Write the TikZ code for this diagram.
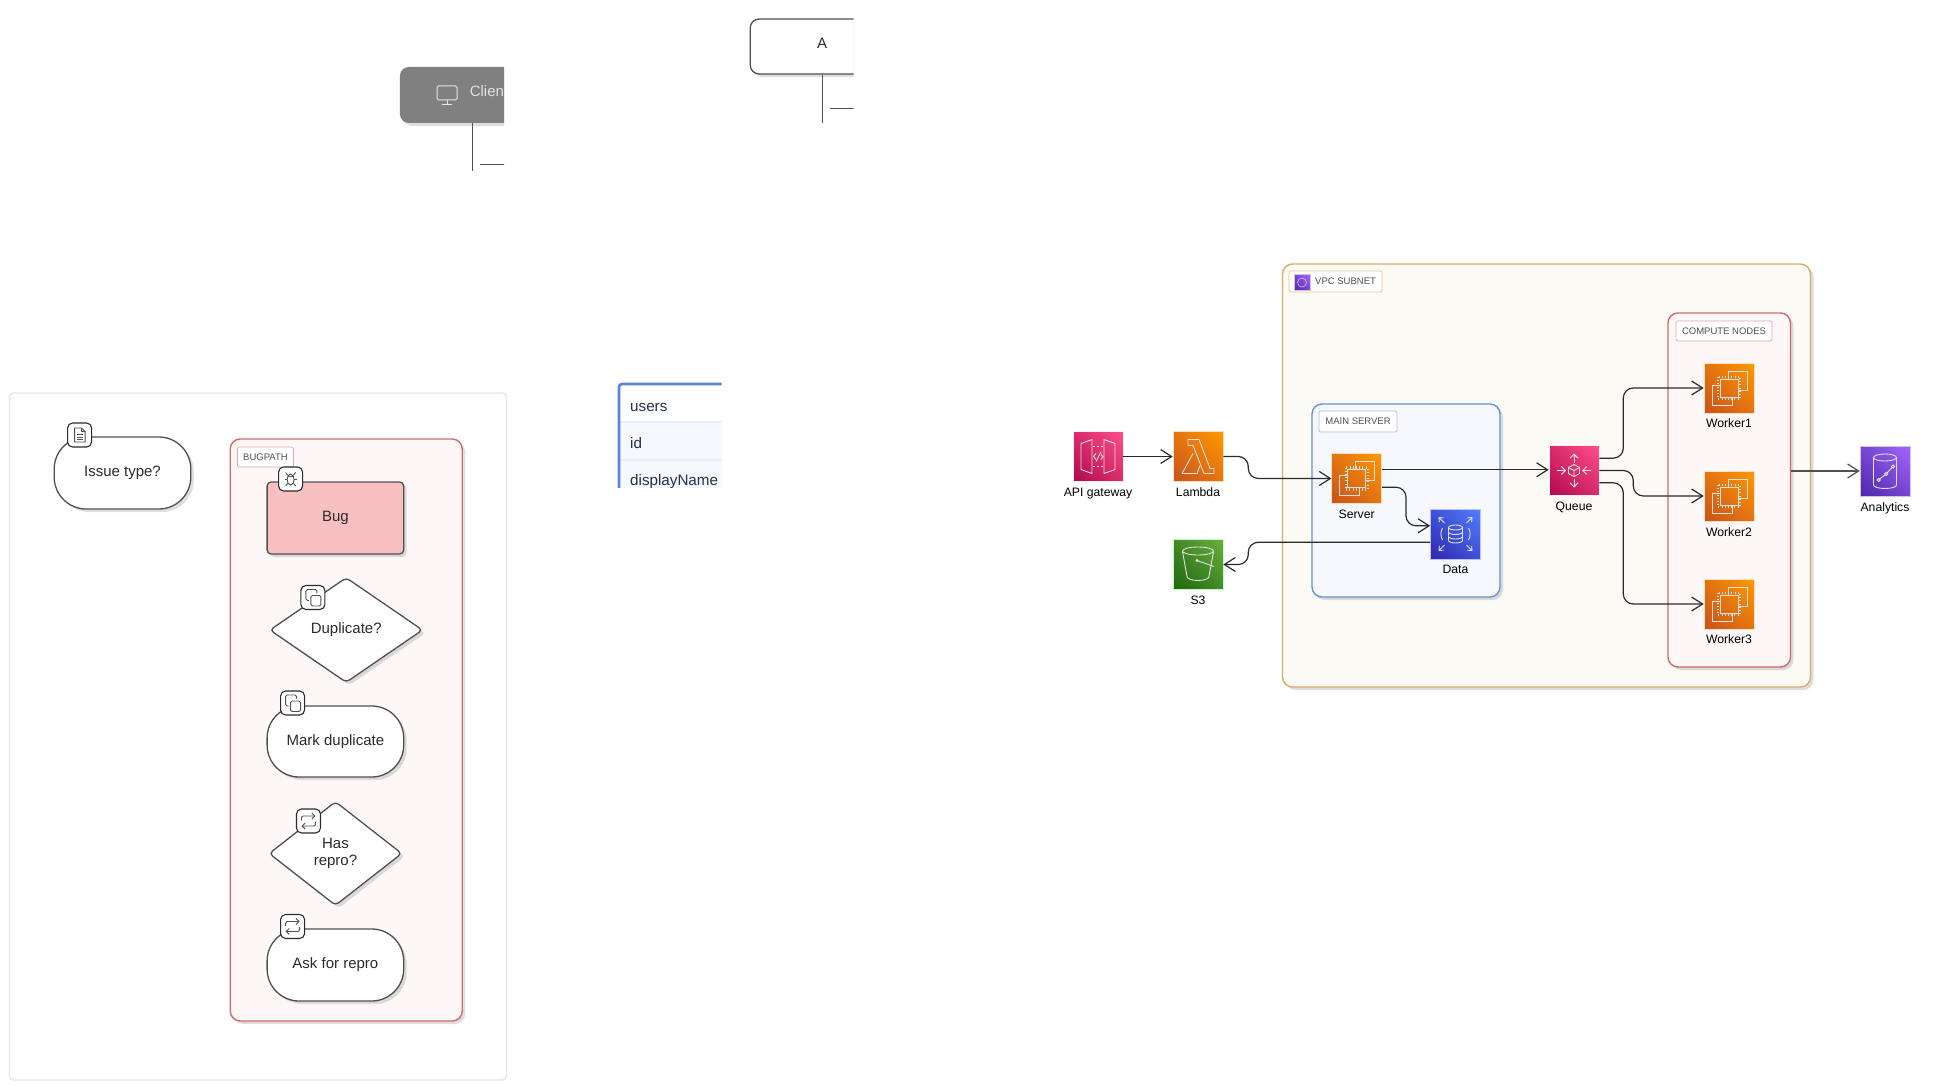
\documentclass[tikz,border=0pt]{standalone}
\usepackage{fontspec}
\setmainfont{Liberation Sans}
\usetikzlibrary{arrows.meta,shadows,shadings,shapes.geometric,calc}

\definecolor{inkdark}{HTML}{2B2B2B}
\definecolor{inkgrey}{HTML}{505050}
\definecolor{redline}{HTML}{D36A6A}
\definecolor{redfill}{HTML}{FDF7F7}
\definecolor{bugfill}{HTML}{F8BFC0}
\definecolor{blueline}{HTML}{6492D8}
\definecolor{bluefill}{HTML}{F6F8FD}
\definecolor{sandline}{HTML}{DCAA66}
\definecolor{sandfill}{HTML}{FBFAF5}
\definecolor{tabletext}{HTML}{24304F}

\tikzset{
	softshadow/.style={drop shadow={shadow xshift=3pt, shadow yshift=-3pt, fill=black, opacity=0.13}},
	flowshape/.style={draw=inkgrey, line width=1.3pt, fill=white, text=inkdark, inner sep=0pt, softshadow, font=\fontsize{15}{17}\selectfont},
	terminal/.style={flowshape, rounded corners=32pt, minimum width=136.6pt, minimum height=72pt},
	question/.style={flowshape, diamond, aspect=1.45, rounded corners=4pt, align=center},
	badge/.style={draw=inkdark, line width=1.1pt, fill=white, rounded corners=5pt, minimum size=24pt, inner sep=0pt},
	glyph/.style={draw=inkgrey, line width=0.9pt},
	group/.style={line width=1.4pt, rounded corners=10pt, inner sep=0pt, softshadow},
	tag/.style={fill=white, line width=0.7pt, rounded corners=2pt, inner sep=0pt, text=inkgrey, font=\fontsize{9.5}{11}\selectfont},
	service/.style={minimum size=50pt, inner sep=0pt, draw=white!75!#1, line width=0.6pt, shading=bilinear interpolation},
	pinkicon/.style={service=pink, lower left=pinkA, upper right=pinkB, upper left=pinkC, lower right=pinkC},
	orangeicon/.style={service=orange, lower left=orangeA, upper right=orangeB, upper left=orangeC, lower right=orangeC},
	blueicon/.style={service=blue, lower left=indigoA, upper right=indigoB, upper left=indigoC, lower right=indigoC},
	greenicon/.style={service=green, lower left=greenA, upper right=greenB, upper left=greenC, lower right=greenC},
	purpleicon/.style={service=violet, lower left=violetA, upper right=violetB, upper left=violetC, lower right=violetC},
	iconline/.style={draw=white!88!black, line width=0.9pt},
	icontext/.style={text=black, inner sep=0pt, text height=9pt, text depth=0.5pt, font=\fontsize{12.2}{14}\selectfont},
	link/.style={draw=inkdark, line width=1.2pt, rounded corners=10pt, -{Straight Barb[length=11pt,width=14pt]}},
	lifeline/.style={draw=inkgrey, line width=1pt},
	tablerow/.style={minimum width=130pt, minimum height=37pt, inner sep=0pt},
	tabletxt/.style={text=tabletext, inner sep=0pt, anchor=west, text height=11pt, text depth=0.5pt, font=\fontsize{15.2}{18}\selectfont}
}

\definecolor{pinkA}{HTML}{B0084D}\definecolor{pinkB}{HTML}{FF4F8B}\definecolor{pinkC}{HTML}{D82C6C}
\definecolor{orangeA}{HTML}{C8511B}\definecolor{orangeB}{HTML}{FF9900}\definecolor{orangeC}{HTML}{E47510}
\definecolor{indigoA}{HTML}{2E27AD}\definecolor{indigoB}{HTML}{527FFF}\definecolor{indigoC}{HTML}{3F52D6}
\definecolor{greenA}{HTML}{1B660F}\definecolor{greenB}{HTML}{6CAE3E}\definecolor{greenC}{HTML}{438A26}
\definecolor{violetA}{HTML}{4D27AA}\definecolor{violetB}{HTML}{A166FF}\definecolor{violetC}{HTML}{7746D4}

% glyphs, drawn round the centre of a named node
\def\chipglyph(#1){\begin{scope}[shift={(#1)}]
	\draw[iconline] (-1, -9) -- (-1, -17) -- (18, -17) -- (18, 2) -- (9, 2);
	\draw[iconline] (-9, -3) -- (-17, -3) -- (-17, 17) -- (3, 17) -- (3, 9);
	\draw[iconline] (-9, -9) rectangle (9, 9);
	\draw[iconline, line width=2.4pt, dash pattern=on 1pt off 2.2pt] (-11, -11) rectangle (11, 11);
\end{scope}}
\def\gateglyph(#1){\begin{scope}[shift={(#1)}]
	\draw[iconline] (-17, -13) -- (-6, -17) -- (-6, 17) -- (-17, 13) -- cycle;
	\draw[iconline] (6, -17) -- (17, -13) -- (17, 13) -- (6, 17) -- cycle;
	\draw[iconline, dash pattern=on 2pt off 2pt] (-5, -10) -- (5, -10);
	\draw[iconline, dash pattern=on 2pt off 2pt] (-5, 10) -- (5, 10);
	\draw[iconline] (3, -5) -- (-2, 5);
	\draw[iconline] (-2, -3) -- (-4.5, 0) -- (-2, 3);
	\draw[iconline] (3, -2) -- (5, 0) -- (3, 3);
\end{scope}}
\def\lambdaglyph(#1){\begin{scope}[shift={(#1)}]
	\draw[iconline] (-10, -17) -- (1, -17) -- (12, 12) -- (16, 12) -- (16, 17) -- (6, 17) -- (-5, -11) -- (-10, -11) -- cycle;
	\draw[iconline] (-5, -3) -- (-16, 17) -- (-1, 17) -- (2, 9);
\end{scope}}
\def\bucketglyph(#1){\begin{scope}[shift={(#1)}]
	\draw[iconline] (0, -13.5) ellipse (15.5 and 4);
	\draw[iconline] (-15.5, -13) -- (-11, 12) arc (180:0:11 and 4) -- (15.5, -13);
	\draw[iconline] (-1, -4) -- (16, 2);
	\draw[iconline] (-1, -4) circle (1);
\end{scope}}
\def\dataglyph(#1){\begin{scope}[shift={(#1)}]
	\draw[iconline] (0, -6.5) ellipse (7 and 2.5);
	\draw[iconline] (-7, -6.5) -- (-7, 6.5) arc (180:0:7 and 2.5) -- (7, -6.5);
	\draw[iconline] (-7, -2) arc (180:0:7 and 2.5);
	\draw[iconline] (-7, 2.5) arc (180:0:7 and 2.5);
	\draw[iconline] (-13, -6) arc (210:150:12);
	\draw[iconline] (13, -6) arc (-30:30:12);
	\draw[iconline, -{Straight Barb[length=3.5pt,width=6pt]}] (-11, -11) -- (-17, -17);
	\draw[iconline, -{Straight Barb[length=3.5pt,width=6pt]}] (11, -11) -- (17, -17);
	\draw[iconline, -{Straight Barb[length=3.5pt,width=6pt]}] (-11, 11) -- (-17, 17);
	\draw[iconline, -{Straight Barb[length=3.5pt,width=6pt]}] (11, 11) -- (17, 17);
\end{scope}}
\def\queueglyph(#1){\begin{scope}[shift={(#1)}]
	\draw[iconline] (0, -6) -- (5.5, -3) -- (5.5, 3) -- (0, 6) -- (-5.5, 3) -- (-5.5, -3) -- cycle;
	\draw[iconline] (-5.5, -3) -- (0, 0) -- (5.5, -3) (0, 0) -- (0, 6);
	\draw[iconline, -{Straight Barb[length=4pt,width=8pt]}] (0, -8) -- (0, -17);
	\draw[iconline, -{Straight Barb[length=4pt,width=8pt]}] (0, 8) -- (0, 17);
	\draw[iconline, -{Straight Barb[length=4pt,width=8pt]}] (-17, 0) -- (-8, 0);
	\draw[iconline, -{Straight Barb[length=4pt,width=8pt]}] (17, 0) -- (8, 0);
\end{scope}}
\def\chartglyph(#1){\begin{scope}[shift={(#1)}]
	\draw[iconline] (0, -13.5) ellipse (11.5 and 3.5);
	\draw[iconline] (-11.5, -13.5) -- (-11.5, 14) arc (180:0:11.5 and 3.5) -- (11.5, -13.5);
	\draw[iconline] (-6.5, 9) -- (1, 3) -- (8, -4.5);
	\draw[iconline, fill=violetC] (-6.5, 9) circle (1.6);
	\draw[iconline, fill=violetC] (1, 3) circle (1.6);
	\draw[iconline, fill=violetC] (8, -4.5) circle (1.6);
\end{scope}}
\def\fileglyph(#1){\begin{scope}[shift={(#1)}]
	\draw[glyph] (-5, -7) -- (2, -7) -- (5.5, -3.5) -- (5.5, 7) -- (-5, 7) -- cycle;
	\draw[glyph] (2, -7) -- (2, -3.5) -- (5.5, -3.5);
	\draw[glyph] (-2.5, -0.5) -- (3, -0.5) (-2.5, 2) -- (3, 2) (-2.5, 4.5) -- (3, 4.5);
\end{scope}}
\def\bugglyph(#1){\begin{scope}[shift={(#1)}]
	\draw[glyph] (0, 0.5) ellipse (3.5 and 5.5);
	\draw[glyph] (-3, -4) -- (-5, -6.5) (3, -4) -- (5, -6.5);
	\draw[glyph] (-6, 0.5) -- (-3.5, 0.5) (3.5, 0.5) -- (6, 0.5);
	\draw[glyph] (-3, 4.5) -- (-5, 7) (3, 4.5) -- (5, 7);
	\draw[glyph] (-3, -3) -- (3, -3);
\end{scope}}
\def\copyglyph(#1){\begin{scope}[shift={(#1)}]
	\draw[glyph, rounded corners=1.5pt] (-2, 8.5) rectangle (8, -2);
	\draw[glyph, rounded corners=1.5pt] (-4, 3) -- (-7, 3) -- (-7, -8) -- (4, -8) -- (4, -4.5);
\end{scope}}
\def\loopglyph(#1){\begin{scope}[shift={(#1)}]
	\draw[glyph, rounded corners=2pt, -{Straight Barb[length=3pt,width=6pt]}] (-7, -0.5) -- (-7, -5) -- (7, -5);
	\draw[glyph, rounded corners=2pt, -{Straight Barb[length=3pt,width=6pt]}] (7, 0.5) -- (7, 5) -- (-7, 5);
\end{scope}}

\begin{document}
\begin{tikzpicture}[x=1pt, y=-1pt]
	\useasboundingbox (0, 0) rectangle (1944, 1086);

	%%%%% top boxes, cut off by their frames %%%%%
	\begin{scope}
		\clip (394, 60) rectangle (504, 180);
		\node[draw=none, fill=black!50, rounded corners=9pt, minimum width=145pt, minimum height=56pt, inner sep=0pt, softshadow] (client) at (472.4, 95) {};
		\node[inner sep=0pt, anchor=west, text=white!88!black, font=\fontsize{15}{17}\selectfont] (clienttxt) at (469.6, 91) {Client};
		\draw[white!90!black, line width=1pt, rounded corners=1.5pt] (437, 86) rectangle (457, 100);
		\draw[white!90!black, line width=1pt] (447, 100) -- (447, 105) (442, 105) -- (452, 105);
		\coordinate (clientend) at (472.4, 171);
		\coordinate (clientmark) at (480, 165);
		\coordinate (clientmarkend) at (530, 165);
		\draw[lifeline, line width=0.7pt] (client.south) -- (clientend);
		\draw[lifeline] (clientmark) -- (clientmarkend);
	\end{scope}
	\begin{scope}
		\clip (745, 12) rectangle (853.5, 130);
		\node[flowshape, rounded corners=9pt, minimum width=144pt, minimum height=55pt] (nodeA) at (822.2, 46.5) {};
		\node[inner sep=0pt, text=inkdark, font=\fontsize{15}{17}\selectfont] (nodeAtxt) at (822.2, 43) {A};
		\coordinate (nodeAend) at (822.2, 123);
		\coordinate (nodeAmark) at (829.5, 108.5);
		\coordinate (nodeAmarkend) at (880, 108.5);
		\draw[lifeline] (nodeA.south) -- (nodeAend);
		\draw[lifeline] (nodeAmark) -- (nodeAmarkend);
	\end{scope}

	%%%%% flow panel %%%%%
	\node[draw=black!10, line width=1.4pt, fill=white, rounded corners=4pt, minimum width=497pt, minimum height=687pt, inner sep=0pt] (panel) at (258, 736.5) {};
	\node[group, draw=redline, fill=redfill, minimum width=232pt, minimum height=582pt] (bugpath) at (346.2, 730) {};
	\node[tag, draw=redline!60, minimum width=56pt, minimum height=20pt] (bugpathtag) at (265.5, 457) {BUGPATH};

	\node[terminal] (issue) at (122.5, 473) {Issue type?};
	\node[badge] (issuebadge) at (79.6, 435) {};
	\fileglyph(issuebadge)

	\node[flowshape, fill=bugfill, rounded corners=4pt, minimum width=136.6pt, minimum height=72pt] (bug) at (335.4, 518) {Bug};
	\node[badge] (bugbadge) at (290.6, 479) {};
	\bugglyph(bugbadge)

	\node[question, minimum width=153pt, minimum height=105pt] (duplicate) at (346.2, 630) {Duplicate?};
	\node[badge] (duplicatebadge) at (312.9, 597.5) {};
	\copyglyph(duplicatebadge)

	\node[terminal, minimum height=71pt] (markdup) at (335.4, 741.5) {Mark duplicate};
	\node[badge] (markdupbadge) at (292.6, 703) {};
	\copyglyph(markdupbadge)

	\node[question, minimum width=133pt, minimum height=104pt] (repro) at (335.5, 853.5) {Has\\repro?};
	\node[badge] (reprobadge) at (308.5, 821) {};
	\loopglyph(reprobadge)

	\node[terminal] (askrepro) at (335.4, 965) {Ask for repro};
	\node[badge] (askreprobadge) at (292.6, 926.5) {};
	\loopglyph(askreprobadge)

	%%%%% table %%%%%
	\begin{scope}
		\clip (616, 381) rectangle (721.6, 487);
		\node[tablerow, fill=white, anchor=north west] (usersrow) at (618, 384) {};
		\node[tablerow, fill=bluefill, anchor=north west] (idrow) at (618, 422) {};
		\node[tablerow, fill=bluefill, anchor=north west] (namerow) at (618, 460) {};
		\draw[blue!8, line width=1.2pt] (idrow.north west) -- (idrow.north east);
		\draw[blue!8, line width=1.2pt] (namerow.north west) -- (namerow.north east);
		\node[tabletxt] (userstxt) at (630, 406) {users};
		\node[tabletxt] (idtxt) at (630, 443) {id};
		\node[tabletxt] (nametxt) at (630, 480) {displayName};
		\draw[draw=blueline!90!blue, line width=2.6pt, rounded corners=3pt] (619, 500) -- (619, 384) -- (740, 384);
	\end{scope}

	%%%%% groups %%%%%
	\node[group, draw=sandline, fill=sandfill, minimum width=528pt, minimum height=423pt] (vpc) at (1546.5, 475.5) {};
	\node[tag, draw=sandline!70, minimum width=93pt, minimum height=21pt] (vpctag) at (1335.5, 281.5) {};
	\node[inner sep=0pt, anchor=west, text=inkgrey, font=\fontsize{9.5}{11}\selectfont] (vpctxt) at (1315, 281) {VPC SUBNET};
	\node[purpleicon, minimum size=16pt] (vpcicon) at (1302, 282.5) {};
	\draw[white, line width=0.6pt, opacity=0.7] (vpcicon) circle (4.5);
	\node[group, draw=blueline, fill=bluefill, minimum width=188pt, minimum height=193pt] (mainserver) at (1406, 500.5) {};
	\node[tag, draw=blueline!60, minimum width=78pt, minimum height=21pt] (mainservertag) at (1358, 421.5) {MAIN SERVER};
	\node[group, draw=redline, fill=redfill, minimum width=122.5pt, minimum height=354pt] (compute) at (1729.2, 490) {};
	\node[tag, draw=redline!60, minimum width=96pt, minimum height=20pt] (computetag) at (1724, 331) {COMPUTE NODES};

	%%%%% services %%%%%
	\node[pinkicon] (gateway) at (1098, 456.5) {};
	\gateglyph(gateway)
	\node[icontext] (gatewaytxt) at (1098, 492) {API gateway};
	\node[orangeicon] (lambda) at (1198, 456.5) {};
	\lambdaglyph(lambda)
	\node[icontext] (lambdatxt) at (1198, 492) {Lambda};
	\node[greenicon] (s3) at (1198, 564.5) {};
	\bucketglyph(s3)
	\node[icontext] (s3txt) at (1198, 600) {S3};
	\node[orangeicon] (server) at (1356.7, 478.5) {};
	\chipglyph(server)
	\node[icontext] (servertxt) at (1356.7, 514) {Server};
	\node[blueicon] (data) at (1455.5, 534) {};
	\dataglyph(data)
	\node[icontext] (datatxt) at (1455.5, 569) {Data};
	\node[pinkicon] (queue) at (1574, 470.5) {};
	\queueglyph(queue)
	\node[icontext] (queuetxt) at (1574, 506) {Queue};
	\node[orangeicon] (worker1) at (1729, 388) {};
	\chipglyph(worker1)
	\node[icontext] (worker1txt) at (1729, 423) {Worker1};
	\node[orangeicon] (worker2) at (1729, 496) {};
	\chipglyph(worker2)
	\node[icontext] (worker2txt) at (1729, 532) {Worker2};
	\node[orangeicon] (worker3) at (1729, 604) {};
	\chipglyph(worker3)
	\node[icontext] (worker3txt) at (1729, 639) {Worker3};
	\node[purpleicon] (analytics) at (1885, 471) {};
	\chartglyph(analytics)
	\node[icontext] (analyticstxt) at (1885, 507) {Analytics};

	%%%%% connectors %%%%%
	\draw[link] (gateway.east) -- (lambda.west);
	\draw[link] (lambda.east) -- ++(25, 0) |- (server.west);
	\draw[link] (server.19) -- (server.19 -| queue.west);
	\draw[link] (server.-19) -- ++(24, 0) |- (data.162);
	\draw[link] (data.198) -| ($(s3.east)+(25, 0)$) -- (s3.east);
	\draw[link] (queue.26.6) -- ++(24, 0) |- (worker1.west);
	\draw[link] (queue.east) -- ++(34, 0) |- (worker2.west);
	\draw[link] (queue.-26.6) -- ++(24, 0) |- (worker3.west);
	\draw[link, draw=inkgrey] (compute.east |- analytics.west) -- (analytics.west);
\end{tikzpicture}
\end{document}
